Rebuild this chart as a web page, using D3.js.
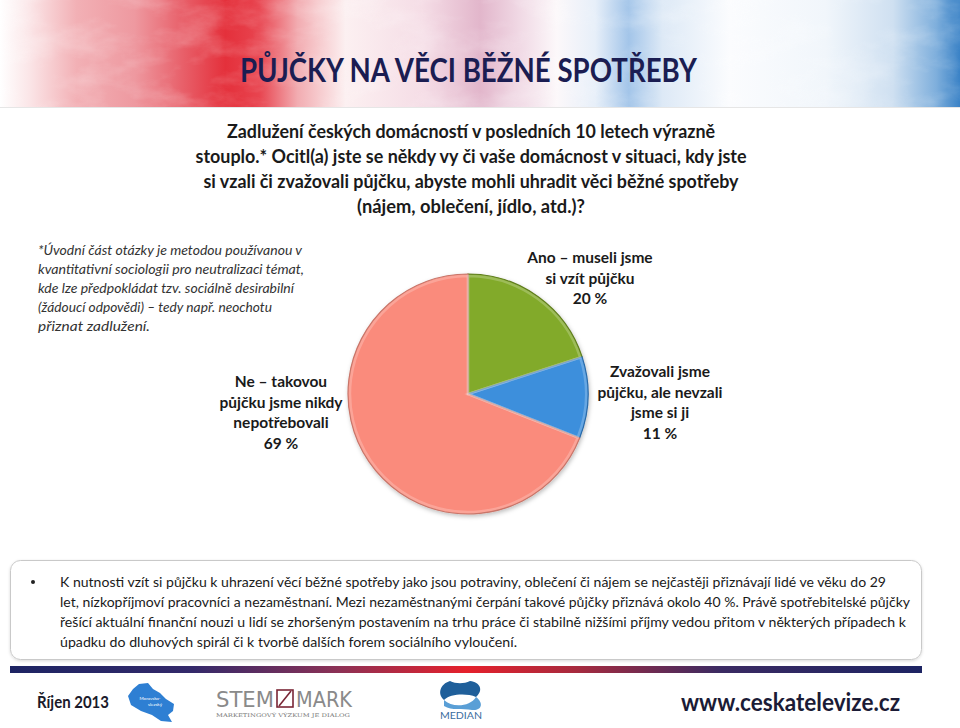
<!DOCTYPE html>
<html><head><meta charset="utf-8">
<script src="https://cdn.jsdelivr.net/npm/d3@7"></script>
<style>
html,body{margin:0;padding:0;background:#fff;}
svg{display:block;}
</style></head>
<body>
<svg id="c" width="960" height="728"></svg>
<script>
// ---------- DATA ----------
const categories = ["Ano – museli jsme si vzít půjčku", "Zvažovali jsme půjčku, ale nevzali jsme si ji", "Ne – takovou půjčku jsme nikdy nepotřebovali"];
const values = [20, 11, 69];
const labelLines = [
  ["Ano – museli jsme", "si vzít půjčku", "20 %"],
  ["Zvažovali jsme", "půjčku, ale nevzali", "jsme si ji", "11 %"],
  ["Ne – takovou", "půjčku jsme nikdy", "nepotřebovali", "69 %"]
];
const titleText = "PŮJČKY NA VĚCI BĚŽNÉ SPOTŘEBY";
const questionLines = [
  "Zadlužení českých domácností v posledních 10 letech výrazně",
  "stouplo.* Ocitl(a) jste se někdy vy či vaše domácnost v situaci, kdy jste",
  "si vzali či zvažovali půjčku, abyste mohli uhradit věci běžné spotřeby",
  "(nájem, oblečení, jídlo, atd.)?"
];
const noteLines = [
  "*Úvodní část otázky je metodou používanou v",
  "kvantitativní sociologii pro neutralizaci témat,",
  "kde lze předpokládat tzv. sociálně desirabilní",
  "(žádoucí odpovědi) – tedy např. neochotu",
  "přiznat zadlužení."
];
const bulletLines = [
  "K nutnosti vzít si půjčku k uhrazení věcí běžné spotřeby jako jsou potraviny, oblečení či  nájem se nejčastěji přiznávají  lidé ve věku do 29",
  "let, nízkopříjmoví pracovníci a nezaměstnaní. Mezi nezaměstnanými čerpání takové půjčky přiznává okolo 40 %. Právě spotřebitelské půjčky",
  "řešící aktuální finanční nouzi u lidí  se zhoršeným postavením na trhu práce či stabilně nižšími příjmy vedou  přitom v některých případech k",
  "úpadku do  dluhových spirál  či k tvorbě dalších forem sociálního vyloučení."
];
const footerDate = "Říjen 2013";
const footerUrl = "www.ceskatelevize.cz";

// ---------- STYLE / LAYOUT ----------
const FONT = "Lato, 'Open Sans', 'DejaVu Sans', sans-serif";
const colors = ["#82aa2b", "#3d8fdc", "#fa8b7b"];
const strokes = ["#5f7d1c", "#2a6aa8", "#c8766a"];

const svg = d3.select("#c");
const defs = svg.append("defs");

// header gradient
const hg = defs.append("linearGradient").attr("id","hdr").attr("x1",0).attr("x2",1).attr("y1",0).attr("y2",0);
[[0,"#ffffff"],[0.03,"#fbe6e8"],[0.08,"#f2b0b5"],[0.14,"#ee99a0"],[0.19,"#e8606a"],[0.235,"#e4303b"],[0.27,"#e8444f"],[0.31,"#f2acb1"],[0.36,"#fcf0f1"],[0.44,"#f5dde6"],[0.5,"#e2b6cb"],[0.54,"#f0d8e4"],[0.58,"#fcf8fa"],[0.62,"#e7eff9"],[0.655,"#a3c5e9"],[0.69,"#dde9f6"],[0.76,"#fbfcfe"],[0.86,"#f1f6fb"],[0.93,"#cfe0f1"],[0.975,"#7fafdc"],[1,"#3a82c6"]]
  .forEach(s => hg.append("stop").attr("offset", s[0]).attr("stop-color", s[1]));

const tex = defs.append("filter").attr("id","tex").attr("x",0).attr("y",0).attr("width",1).attr("height",1);
tex.append("feTurbulence").attr("type","fractalNoise").attr("baseFrequency","0.018 0.035").attr("numOctaves",5).attr("seed",11);
tex.append("feColorMatrix").attr("type","matrix").attr("values","0 0 0 0 1  0 0 0 0 1  0 0 0 0 1  1.8 0 0 0 -0.8");

// footer bar gradient
const fg = defs.append("linearGradient").attr("id","fbar").attr("x1",0).attr("x2",1);
[[0,"#1d2463"],[0.2,"#33296a"],[0.36,"#8c3155"],[0.5,"#e5202b"],[0.62,"#a72a3e"],[0.78,"#3a2a62"],[1,"#1d2463"]]
  .forEach(s => fg.append("stop").attr("offset", s[0]).attr("stop-color", s[1]));

const sh = defs.append("filter").attr("id","shadow").attr("x","-20%").attr("y","-20%").attr("width","140%").attr("height","140%");
sh.append("feDropShadow").attr("dx",1).attr("dy",2).attr("stdDeviation",2).attr("flood-color","#000").attr("flood-opacity",0.25);

const bx = defs.append("filter").attr("id","boxsh").attr("x","-5%").attr("y","-10%").attr("width","110%").attr("height","130%");
bx.append("feDropShadow").attr("dx",0).attr("dy",1).attr("stdDeviation",1.5).attr("flood-color","#000").attr("flood-opacity",0.15);

// ---------- HEADER ----------
svg.append("rect").attr("x",0).attr("y",0).attr("width",960).attr("height",107).attr("fill","url(#hdr)");
svg.append("rect").attr("x",0).attr("y",0).attr("width",960).attr("height",107).attr("filter","url(#tex)").attr("opacity",0.3);
svg.append("line").attr("x1",0).attr("x2",960).attr("y1",107.5).attr("y2",107.5).attr("stroke","#e6e6e6");

svg.append("text").attr("x",240).attr("y",82).attr("textLength",457).attr("lengthAdjust","spacingAndGlyphs")
  .attr("font-family",FONT).attr("font-weight","bold").attr("font-size",32).attr("fill","#1b1d52").text(titleText);

// ---------- QUESTION ----------
const qW = [488, 551, 535, 228];
svg.append("g").selectAll("text").data(questionLines).join("text")
  .attr("x",471).attr("y",(d,i)=>138+i*25).attr("text-anchor","middle")
  .attr("textLength",(d,i)=>qW[i]).attr("lengthAdjust","spacingAndGlyphs")
  .attr("font-family",FONT).attr("font-weight","bold").attr("font-size",19).attr("fill","#1a1a1a").text(d=>d);

// ---------- NOTE ----------
const nW = [264, 266, 256, 234, 112];
svg.append("g").selectAll("text").data(noteLines).join("text")
  .attr("x",38).attr("y",(d,i)=>255+i*19)
  .attr("textLength",(d,i)=>nW[i]).attr("lengthAdjust","spacingAndGlyphs")
  .attr("font-family",FONT).attr("font-style","italic").attr("font-size",14).attr("fill","#333").text(d=>d);

// ---------- PIE ----------
const cx = 468, cy = 394, R = 120;
const pie = d3.pie().sort(null).value(d=>d);
const arcs = pie(values);
const arc = d3.arc().innerRadius(0).outerRadius(R);
const arcIn = d3.arc().innerRadius(0).outerRadius(R-2);
const pg = svg.append("g").attr("transform",`translate(${cx},${cy})`);
pg.append("g").attr("filter","url(#shadow)").selectAll("path").data(arcs).join("path")
  .attr("d",arc).attr("fill",(d,i)=>colors[i]).attr("stroke",(d,i)=>strokes[i]).attr("stroke-width",1.2);
pg.append("g").selectAll("path").data(arcs).join("path")
  .attr("d",arcIn).attr("fill","none").attr("stroke","#fff").attr("stroke-opacity",0.22).attr("stroke-width",2.5);

// labels
const labelPos = [{x:590,y:263},{x:660,y:377},{x:281,y:387}];
labelLines.forEach((lines,k)=>{
  svg.append("g").selectAll("text").data(lines).join("text")
    .attr("x",labelPos[k].x).attr("y",(d,i)=>labelPos[k].y+i*20.5).attr("text-anchor","middle")
    .attr("font-family",FONT).attr("font-weight","bold").attr("font-size",15.5).attr("fill","#1a1a1a")
    .text(d=>d);
});

// ---------- BOTTOM BOX ----------
svg.append("rect").attr("x",10.5).attr("y",560.5).attr("width",911).attr("height",99).attr("rx",10)
  .attr("fill","#fff").attr("stroke","#c9c9c9").attr("filter","url(#boxsh)");
svg.append("circle").attr("cx",33).attr("cy",582).attr("r",2).attr("fill","#222");
const bW = [826, 850, 846, 457];
svg.append("g").selectAll("text").data(bulletLines).join("text")
  .attr("x",60).attr("y",(d,i)=>587+i*20)
  .attr("textLength",(d,i)=>bW[i]).attr("lengthAdjust","spacingAndGlyphs")
  .attr("font-family",FONT).attr("font-size",14).attr("fill","#1a1a1a").text(d=>d);

// ---------- FOOTER ----------
svg.append("rect").attr("x",10).attr("y",666).attr("width",912).attr("height",7).attr("fill","url(#fbar)");

svg.append("text").attr("x",37).attr("y",708).attr("textLength",72).attr("lengthAdjust","spacingAndGlyphs")
  .attr("font-family",FONT).attr("font-weight","bold").attr("font-size",17).attr("fill","#1a1a2a").text(footerDate);

// Moravskoslezsky region logo
svg.append("path").attr("fill","#2e7fd3")
  .attr("d","M139,684 L148,683 L153,689 L160,693 L166,699 L174,704 L173,711 L168,715 L172,722 L161,721 L152,715 L141,711 L131,705 L128,696 L133,689 Z");
svg.append("text").attr("x",150).attr("y",700).attr("text-anchor","middle").attr("font-family",FONT).attr("font-size",4.5).attr("fill","#fff").text("Moravsko-");
svg.append("text").attr("x",155).attr("y",706).attr("text-anchor","middle").attr("font-family",FONT).attr("font-size",4.5).attr("fill","#fff").text("slezský");

// STEM/MARK logo
svg.append("text").attr("x",216).attr("y",707).attr("textLength",58).attr("lengthAdjust","spacingAndGlyphs")
  .attr("font-family","'DejaVu Sans', sans-serif").attr("font-size",22).attr("fill","#8a8a8a").text("STEM");
svg.append("rect").attr("x",277).attr("y",690).attr("width",16).attr("height",17).attr("fill","none").attr("stroke","#7a2636").attr("stroke-width",1.6);
svg.append("line").attr("x1",279).attr("y1",706).attr("x2",291).attr("y2",691).attr("stroke","#7a2636").attr("stroke-width",1.6);
svg.append("text").attr("x",296).attr("y",707).attr("textLength",56).attr("lengthAdjust","spacingAndGlyphs")
  .attr("font-family","'DejaVu Sans', sans-serif").attr("font-size",22).attr("fill","#8a8a8a").text("MARK");
svg.append("text").attr("x",216).attr("y",717).attr("textLength",134).attr("lengthAdjust","spacingAndGlyphs")
  .attr("font-family","'DejaVu Serif', serif").attr("font-size",5).attr("fill","#777").text("MARKETINGOVÝ VÝZKUM JE DIALOG");

// MEDIAN logo
svg.append("path").attr("fill","#1f5f9a").attr("d","M450,681 C440,684 437,694 444,700 C450,694 466,693 476,697 C484,690 480,682 470,681 C464,684 456,684 450,681 Z");
svg.append("path").attr("fill","#5a9fd6").attr("d","M444,700 C452,708 470,707 476,697 C484,703 482,711 472,710 C462,708 452,711 444,706 Z");
svg.append("text").attr("x",461).attr("y",719).attr("text-anchor","middle").attr("textLength",42).attr("lengthAdjust","spacingAndGlyphs")
  .attr("font-family",FONT).attr("font-size",9.5).attr("fill","#3b6d9e").text("MEDIAN");

svg.append("text").attr("x",681).attr("y",711).attr("textLength",219).attr("lengthAdjust","spacingAndGlyphs")
  .attr("font-family",FONT).attr("font-weight","bold").attr("font-size",25).attr("fill","#1b1b36").text(footerUrl);
</script>
</body></html>
